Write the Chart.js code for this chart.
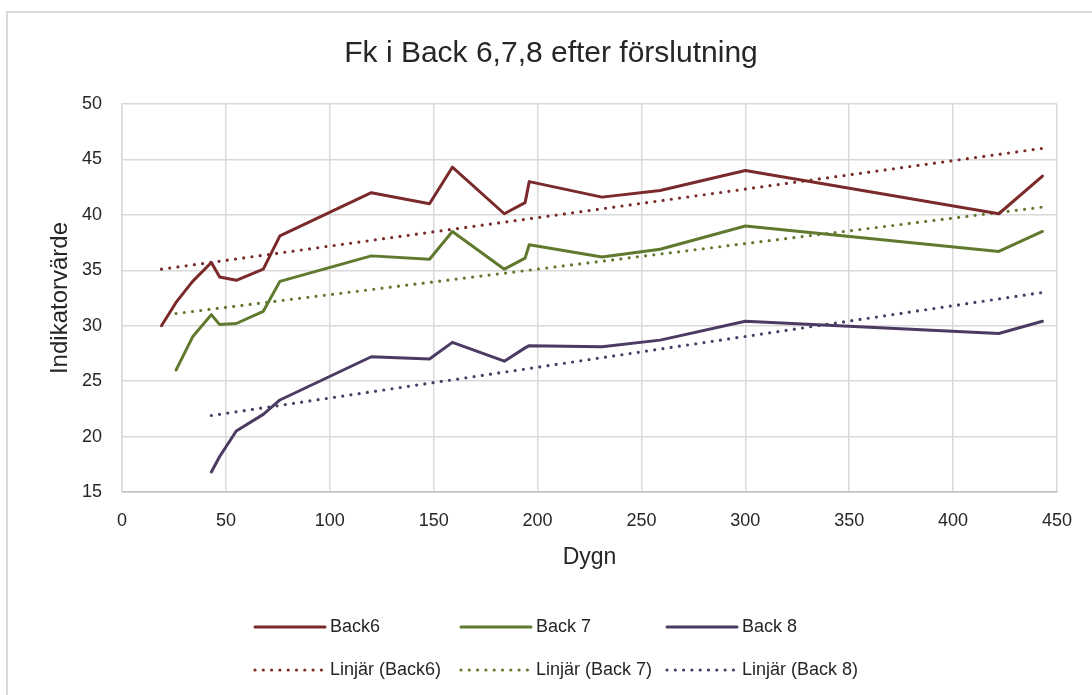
<!DOCTYPE html>
<html>
<head>
<meta charset="utf-8">
<title>Fk i Back 6,7,8 efter förslutning</title>
<script src="https://cdn.jsdelivr.net/npm/chart.js@4.4.0/dist/chart.umd.min.js"></script>
<style>
  html, body { margin: 0; padding: 0; background: #fff; overflow: hidden; }
  #wrap { position: relative; width: 1092px; height: 695px; }
  #frame { position: absolute; left: 6px; top: 11px; width: 1200px; height: 800px;
           border: 2px solid #d9d9d9; box-sizing: border-box; }
  #c { position: absolute; left: 0; top: 0; }
</style>
</head>
<body>
<div id="wrap">
  <div id="frame"></div>
  <canvas id="c" width="1092" height="695"></canvas>
</div>
<script>
// Measurement days (Dygn) after closing
const days = [19, 26, 34, 43, 47, 55, 68, 76, 120, 148, 159, 184, 194, 196, 231, 259, 300, 422, 443];

// Indicator values per section (null = not measured that day)
const back6 = [30.0, 32.1, 34.0, 35.7, 34.4, 34.1, 35.1, 38.1, 42.0, 41.0, 44.3, 40.1, 41.1, 43.0, 41.6, 42.2, 44.0, 40.1, 43.5];
const back7 = [null, 26.0, 29.0, 31.0, 30.1, 30.2, 31.3, 34.0, 36.3, 36.0, 38.5, 35.1, 36.1, 37.3, 36.2, 36.9, 39.0, 36.7, 38.5];
const back8 = [null, null, null, 16.8, 18.2, 20.5, 22.0, 23.3, 27.2, 27.0, 28.5, 26.8, 28.0, 28.2, 28.1, 28.7, 30.4, 29.3, 30.4];

// Linear trend lines: start and end day, and value at those days
const trend6Days = [19, 443];
const trend6Vals = [35.1, 46.0];
const trend7Days = [26, 443];
const trend7Vals = [31.1, 40.7];
const trend8Days = [43, 443];
const trend8Vals = [21.9, 33.0];

// Axis ticks
const xTicks = [0, 50, 100, 150, 200, 250, 300, 350, 400, 450];
const yTicks = [15, 20, 25, 30, 35, 40, 45, 50];

const seriesNames = ['Back6', 'Back 7', 'Back 8', 'Linjär (Back6)', 'Linjär (Back 7)', 'Linjär (Back 8)'];
const colors = ['#7a2a2a', '#5f7a2e', '#4b3b63'];

function toPoints(xs, ys) {
  const pts = [];
  xs.forEach((x, i) => { if (ys[i] !== null) pts.push({ x: x, y: ys[i] }); });
  return pts;
}

const FONT = "'Liberation Sans', Arial, sans-serif";
Chart.defaults.font.family = FONT;
Chart.defaults.color = '#262626';

function solid(label, data, color) {
  return {
    label, data, borderColor: color, backgroundColor: color,
    borderWidth: 3, pointRadius: 0, pointHoverRadius: 0, tension: 0,
    borderCapStyle: 'round', borderJoinStyle: 'round', fill: false
  };
}
function dotted(label, data, color) {
  return {
    label, data, borderColor: color, backgroundColor: color,
    borderWidth: 3.2, borderDash: [0, 8.3], borderCapStyle: 'round',
    pointRadius: 0, pointHoverRadius: 0, tension: 0, fill: false
  };
}

// Two-row legend laid out in three aligned columns below the plot
const gridLegend = {
  id: 'gridLegend',
  afterDraw(chart) {
    const ctx = chart.ctx;
    const startX = 255, pitchX = 206, startY = 627, pitchY = 43, sample = 70;
    ctx.save();
    chart.data.datasets.forEach((ds, i) => {
      const col = i % 3, row = Math.floor(i / 3);
      const x0 = startX + col * pitchX, y = startY + row * pitchY;
      ctx.beginPath();
      ctx.strokeStyle = ds.borderColor;
      ctx.lineWidth = ds.borderWidth;
      ctx.lineCap = 'round';
      ctx.setLineDash(ds.borderDash || []);
      ctx.moveTo(x0, y);
      ctx.lineTo(x0 + sample, y);
      ctx.stroke();
      ctx.setLineDash([]);
      ctx.fillStyle = '#262626';
      ctx.font = '18px ' + FONT;
      ctx.textBaseline = 'middle';
      ctx.textAlign = 'left';
      ctx.fillText(ds.label, x0 + sample + 5, y);
    });
    ctx.restore();
  }
};

new Chart(document.getElementById('c'), {
  type: 'line',
  data: {
    datasets: [
      solid(seriesNames[0], toPoints(days, back6), colors[0]),
      solid(seriesNames[1], toPoints(days, back7), colors[1]),
      solid(seriesNames[2], toPoints(days, back8), colors[2]),
      dotted(seriesNames[3], toPoints(trend6Days, trend6Vals), colors[0]),
      dotted(seriesNames[4], toPoints(trend7Days, trend7Vals), colors[1]),
      dotted(seriesNames[5], toPoints(trend8Days, trend8Vals), colors[2])
    ]
  },
  options: {
    responsive: false,
    animation: false,
    devicePixelRatio: 1,
    layout: { padding: { left: 45, right: 35, top: 0, bottom: 123 } },
    plugins: {
      legend: { display: false },
      tooltip: { enabled: false },
      title: {
        display: true,
        text: 'Fk i Back 6,7,8 efter förslutning',
        color: '#262626',
        font: { size: 30, weight: 'normal', family: FONT },
        padding: { top: 36, bottom: 32 }
      }
    },
    scales: {
      x: {
        type: 'linear', min: 0, max: 450,
        afterBuildTicks(scale) { scale.ticks = xTicks.map(v => ({ value: v })); },
        afterFit(scale) { scale.height = 80; },
        ticks: { padding: 18, font: { size: 18 }, color: '#262626', maxRotation: 0 },
        grid: { color: '#d9d9d9', lineWidth: 1.5, drawTicks: false },
        border: { color: '#bfbfbf', width: 1.5 },
        title: { display: true, text: 'Dygn', color: '#262626',
                 font: { size: 23 }, padding: { top: 1, bottom: 1 } }
      },
      y: {
        type: 'linear', min: 15, max: 50,
        afterBuildTicks(scale) { scale.ticks = yTicks.map(v => ({ value: v })); },
        afterFit(scale) { scale.width = 77; },
        ticks: { padding: 20, font: { size: 18 }, color: '#262626' },
        grid: { color: '#d9d9d9', lineWidth: 1.5, drawTicks: false },
        border: { color: '#d9d9d9', width: 1.5 },
        title: { display: true, text: 'Indikatorvärde', color: '#262626',
                 font: { size: 24 }, padding: { top: 1, bottom: 1 } }
      }
    }
  },
  plugins: [gridLegend]
});
</script>
</body>
</html>
